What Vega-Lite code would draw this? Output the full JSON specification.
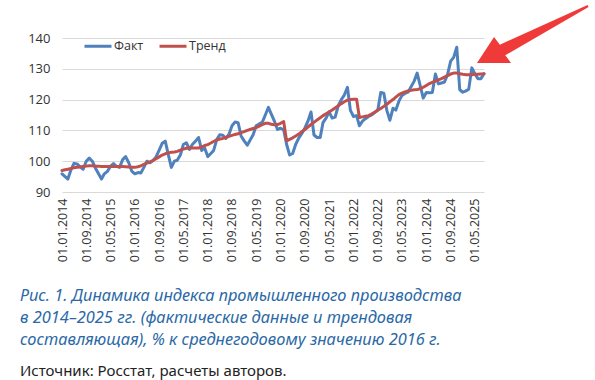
{
  "$schema": "https://vega.github.io/schema/vega-lite/v6.json",
  "width": 422,
  "height": 154,
  "autosize": "none",
  "padding": {"left": 62, "top": 38, "right": 111, "bottom": 188},
  "background": "white",
  "config": {"view": {"stroke": null}, "axis": {"labelOverlap": false}},
  "title": {
    "text": ["Рис. 1. Динамика индекса промышленного производства", "в 2014–2025 гг. (фактические данные и трендовая", "составляющая), % к среднегодовому значению 2016 г."],
    "subtitle": "Источник: Росстат, расчеты авторов.",
    "orient": "bottom",
    "anchor": "start",
    "frame": "group",
    "dx": -42,
    "offset": 26,
    "font": "Noto Sans",
    "fontStyle": "italic",
    "fontWeight": "normal",
    "fontSize": 16.4,
    "lineHeight": 22,
    "color": "#2B69A6",
    "subtitleFont": "Noto Sans",
    "subtitleFontSize": 15,
    "subtitleColor": "#222222",
    "subtitlePadding": 16
  },
  "datasets": {
    "series": [
      {"date":"2014-01-01","Факт":95.9,"Тренд":97.0},
      {"date":"2014-02-01","Факт":95.0,"Тренд":97.2},
      {"date":"2014-03-01","Факт":94.2,"Тренд":97.4},
      {"date":"2014-04-01","Факт":97.2,"Тренд":97.6},
      {"date":"2014-05-01","Факт":99.3,"Тренд":97.9},
      {"date":"2014-06-01","Факт":99.1,"Тренд":98.0},
      {"date":"2014-07-01","Факт":98.2,"Тренд":98.1},
      {"date":"2014-08-01","Факт":97.4,"Тренд":98.3},
      {"date":"2014-09-01","Факт":100.0,"Тренд":98.4},
      {"date":"2014-10-01","Факт":101.0,"Тренд":98.5},
      {"date":"2014-11-01","Факт":100.0,"Тренд":98.5},
      {"date":"2014-12-01","Факт":97.8,"Тренд":98.4},
      {"date":"2015-01-01","Факт":96.0,"Тренд":98.4},
      {"date":"2015-02-01","Факт":94.2,"Тренд":98.3},
      {"date":"2015-03-01","Факт":95.9,"Тренд":98.3},
      {"date":"2015-04-01","Факт":96.7,"Тренд":98.3},
      {"date":"2015-05-01","Факт":98.3,"Тренд":98.3},
      {"date":"2015-06-01","Факт":99.2,"Тренд":98.3},
      {"date":"2015-07-01","Факт":98.3,"Тренд":98.3},
      {"date":"2015-08-01","Факт":98.0,"Тренд":98.3},
      {"date":"2015-09-01","Факт":100.5,"Тренд":98.3},
      {"date":"2015-10-01","Факт":101.5,"Тренд":98.2},
      {"date":"2015-11-01","Факт":99.5,"Тренд":98.1},
      {"date":"2015-12-01","Факт":96.8,"Тренд":98.0},
      {"date":"2016-01-01","Факт":95.9,"Тренд":98.0},
      {"date":"2016-02-01","Факт":96.3,"Тренд":98.2},
      {"date":"2016-03-01","Факт":96.2,"Тренд":98.5},
      {"date":"2016-04-01","Факт":98.0,"Тренд":99.0},
      {"date":"2016-05-01","Факт":100.0,"Тренд":99.4},
      {"date":"2016-06-01","Факт":99.5,"Тренд":99.8},
      {"date":"2016-07-01","Факт":100.2,"Тренд":100.2},
      {"date":"2016-08-01","Факт":101.4,"Тренд":100.8},
      {"date":"2016-09-01","Факт":103.6,"Тренд":101.4},
      {"date":"2016-10-01","Факт":105.8,"Тренд":102.0},
      {"date":"2016-11-01","Факт":106.5,"Тренд":102.4},
      {"date":"2016-12-01","Факт":102.2,"Тренд":102.7},
      {"date":"2017-01-01","Факт":98.0,"Тренд":102.9},
      {"date":"2017-02-01","Факт":100.0,"Тренд":103.0},
      {"date":"2017-03-01","Факт":100.3,"Тренд":103.2},
      {"date":"2017-04-01","Факт":102.0,"Тренд":103.6},
      {"date":"2017-05-01","Факт":105.4,"Тренд":103.9},
      {"date":"2017-06-01","Факт":106.0,"Тренд":104.2},
      {"date":"2017-07-01","Факт":103.8,"Тренд":104.3},
      {"date":"2017-08-01","Факт":105.5,"Тренд":104.3},
      {"date":"2017-09-01","Факт":106.5,"Тренд":104.3},
      {"date":"2017-10-01","Факт":107.7,"Тренд":104.3},
      {"date":"2017-11-01","Факт":103.5,"Тренд":104.6},
      {"date":"2017-12-01","Факт":104.3,"Тренд":105.1},
      {"date":"2018-01-01","Факт":101.5,"Тренд":105.4},
      {"date":"2018-02-01","Факт":102.5,"Тренд":105.9},
      {"date":"2018-03-01","Факт":103.5,"Тренд":106.4},
      {"date":"2018-04-01","Факт":107.0,"Тренд":106.9},
      {"date":"2018-05-01","Факт":108.6,"Тренд":107.2},
      {"date":"2018-06-01","Факт":108.4,"Тренд":107.4},
      {"date":"2018-07-01","Факт":107.4,"Тренд":107.7},
      {"date":"2018-08-01","Факт":108.7,"Тренд":108.1},
      {"date":"2018-09-01","Факт":111.5,"Тренд":108.4},
      {"date":"2018-10-01","Факт":112.7,"Тренд":108.7},
      {"date":"2018-11-01","Факт":112.5,"Тренд":108.9},
      {"date":"2018-12-01","Факт":108.2,"Тренд":109.3},
      {"date":"2019-01-01","Факт":106.6,"Тренд":109.6},
      {"date":"2019-02-01","Факт":105.2,"Тренд":110.0},
      {"date":"2019-03-01","Факт":106.8,"Тренд":110.3},
      {"date":"2019-04-01","Факт":108.6,"Тренд":110.6},
      {"date":"2019-05-01","Факт":111.5,"Тренд":110.9},
      {"date":"2019-06-01","Факт":112.1,"Тренд":111.4},
      {"date":"2019-07-01","Факт":112.6,"Тренд":111.9},
      {"date":"2019-08-01","Факт":115.0,"Тренд":112.3},
      {"date":"2019-09-01","Факт":117.5,"Тренд":112.3},
      {"date":"2019-10-01","Факт":115.2,"Тренд":112.0},
      {"date":"2019-11-01","Факт":112.9,"Тренд":111.8},
      {"date":"2019-12-01","Факт":110.3,"Тренд":111.9},
      {"date":"2020-01-01","Факт":110.7,"Тренд":112.3},
      {"date":"2020-02-01","Факт":110.2,"Тренд":112.9},
      {"date":"2020-03-01","Факт":105.5,"Тренд":106.6},
      {"date":"2020-04-01","Факт":102.0,"Тренд":107.1},
      {"date":"2020-05-01","Факт":102.5,"Тренд":107.6},
      {"date":"2020-06-01","Факт":105.5,"Тренд":108.2},
      {"date":"2020-07-01","Факт":107.5,"Тренд":108.8},
      {"date":"2020-08-01","Факт":109.0,"Тренд":109.6},
      {"date":"2020-09-01","Факт":110.8,"Тренд":110.3},
      {"date":"2020-10-01","Факт":113.0,"Тренд":111.1},
      {"date":"2020-11-01","Факт":116.0,"Тренд":111.9},
      {"date":"2020-12-01","Факт":108.5,"Тренд":112.6},
      {"date":"2021-01-01","Факт":107.7,"Тренд":113.4},
      {"date":"2021-02-01","Факт":107.7,"Тренд":114.1},
      {"date":"2021-03-01","Факт":112.5,"Тренд":114.8},
      {"date":"2021-04-01","Факт":114.0,"Тренд":115.4},
      {"date":"2021-05-01","Факт":116.0,"Тренд":116.0},
      {"date":"2021-06-01","Факт":114.0,"Тренд":116.6},
      {"date":"2021-07-01","Факт":114.3,"Тренд":117.3},
      {"date":"2021-08-01","Факт":118.0,"Тренд":118.0},
      {"date":"2021-09-01","Факт":120.0,"Тренд":118.7},
      {"date":"2021-10-01","Факт":121.5,"Тренд":119.3},
      {"date":"2021-11-01","Факт":124.0,"Тренд":119.8},
      {"date":"2021-12-01","Факт":116.5,"Тренд":120.0},
      {"date":"2022-01-01","Факт":114.5,"Тренд":120.1},
      {"date":"2022-02-01","Факт":114.8,"Тренд":120.1},
      {"date":"2022-03-01","Факт":111.5,"Тренд":114.2},
      {"date":"2022-04-01","Факт":113.0,"Тренд":114.4},
      {"date":"2022-05-01","Факт":113.8,"Тренд":114.6},
      {"date":"2022-06-01","Факт":114.5,"Тренд":114.8},
      {"date":"2022-07-01","Факт":115.0,"Тренд":115.3},
      {"date":"2022-08-01","Факт":115.8,"Тренд":115.9},
      {"date":"2022-09-01","Факт":116.5,"Тренд":116.6},
      {"date":"2022-10-01","Факт":122.3,"Тренд":117.1},
      {"date":"2022-11-01","Факт":122.1,"Тренд":117.8},
      {"date":"2022-12-01","Факт":116.5,"Тренд":118.5},
      {"date":"2023-01-01","Факт":113.3,"Тренд":119.3},
      {"date":"2023-02-01","Факт":117.2,"Тренд":120.0},
      {"date":"2023-03-01","Факт":116.6,"Тренд":120.8},
      {"date":"2023-04-01","Факт":119.5,"Тренд":121.6},
      {"date":"2023-05-01","Факт":121.3,"Тренд":122.1},
      {"date":"2023-06-01","Факт":122.0,"Тренд":122.5},
      {"date":"2023-07-01","Факт":122.4,"Тренд":122.8},
      {"date":"2023-08-01","Факт":124.2,"Тренд":123.0},
      {"date":"2023-09-01","Факт":126.0,"Тренд":123.2},
      {"date":"2023-10-01","Факт":128.6,"Тренд":123.3},
      {"date":"2023-11-01","Факт":124.5,"Тренд":123.5},
      {"date":"2023-12-01","Факт":120.5,"Тренд":124.0},
      {"date":"2024-01-01","Факт":122.3,"Тренд":124.6},
      {"date":"2024-02-01","Факт":122.2,"Тренд":125.2},
      {"date":"2024-03-01","Факт":122.3,"Тренд":125.6},
      {"date":"2024-04-01","Факт":128.3,"Тренд":126.0},
      {"date":"2024-05-01","Факт":125.1,"Тренд":126.4},
      {"date":"2024-06-01","Факт":125.4,"Тренд":126.8},
      {"date":"2024-07-01","Факт":125.7,"Тренд":127.3},
      {"date":"2024-08-01","Факт":128.2,"Тренд":127.8},
      {"date":"2024-09-01","Факт":132.5,"Тренд":128.3},
      {"date":"2024-10-01","Факт":133.7,"Тренд":128.6},
      {"date":"2024-11-01","Факт":137.0,"Тренд":128.6},
      {"date":"2024-12-01","Факт":123.2,"Тренд":128.4},
      {"date":"2025-01-01","Факт":122.4,"Тренд":128.2},
      {"date":"2025-02-01","Факт":122.8,"Тренд":128.1},
      {"date":"2025-03-01","Факт":123.4,"Тренд":128.1},
      {"date":"2025-04-01","Факт":130.3,"Тренд":128.1},
      {"date":"2025-05-01","Факт":128.4,"Тренд":128.2},
      {"date":"2025-06-01","Факт":126.8,"Тренд":128.2},
      {"date":"2025-07-01","Факт":126.8,"Тренд":128.3},
      {"date":"2025-08-01","Факт":128.4,"Тренд":128.4}
    ],
    "arrow": [{"date":"2026-12-03","value":141.3}]
  },
  "encoding": {
    "x": {
      "field": "date", "type": "temporal",
      "scale": {"type": "utc", "domain": [{"year": 2014, "month": 1, "date": 1, "utc": true}, {"year": 2025, "month": 8, "date": 1, "utc": true}]},
      "axis": {
        "title": null, "grid": false, "domain": false, "ticks": false,
        "format": "%d.%m.%Y", "labelAngle": -90, "labelAlign": "right", "labelBaseline": "middle",
        "labelPadding": 6, "labelFont": "Open Sans", "labelFontSize": 12.5, "labelColor": "#333333",
        "labelOverlap": false, "labelFlush": false, "labelBound": false,
        "values": [
          {"year": 2014, "month": 1, "date": 1, "utc": true},
          {"year": 2014, "month": 9, "date": 1, "utc": true},
          {"year": 2015, "month": 5, "date": 1, "utc": true},
          {"year": 2016, "month": 1, "date": 1, "utc": true},
          {"year": 2016, "month": 9, "date": 1, "utc": true},
          {"year": 2017, "month": 5, "date": 1, "utc": true},
          {"year": 2018, "month": 1, "date": 1, "utc": true},
          {"year": 2018, "month": 9, "date": 1, "utc": true},
          {"year": 2019, "month": 5, "date": 1, "utc": true},
          {"year": 2020, "month": 1, "date": 1, "utc": true},
          {"year": 2020, "month": 9, "date": 1, "utc": true},
          {"year": 2021, "month": 5, "date": 1, "utc": true},
          {"year": 2022, "month": 1, "date": 1, "utc": true},
          {"year": 2022, "month": 9, "date": 1, "utc": true},
          {"year": 2023, "month": 5, "date": 1, "utc": true},
          {"year": 2024, "month": 1, "date": 1, "utc": true},
          {"year": 2024, "month": 9, "date": 1, "utc": true},
          {"year": 2025, "month": 5, "date": 1, "utc": true}
        ]
      }
    },
    "y": {
      "field": "value", "type": "quantitative",
      "scale": {"domain": [90, 140], "nice": false, "zero": false},
      "axis": {
        "title": null, "values": [90, 100, 110, 120, 130, 140], "domain": false, "ticks": false,
        "gridColor": "#D9D9D9", "gridWidth": 1, "labelPadding": 12, "labelOverlap": false,
        "labelFont": "Open Sans", "labelFontSize": 13, "labelColor": "#333333"
      }
    }
  },
  "layer": [
    {
      "data": {"name": "series"},
      "transform": [{"fold": ["Факт", "Тренд"], "as": ["series", "value"]}],
      "mark": {"type": "line", "strokeWidth": 3, "strokeJoin": "round", "strokeCap": "round"},
      "encoding": {
        "color": {
          "field": "series", "type": "nominal",
          "scale": {"domain": ["Факт", "Тренд"], "range": ["#4F81BD", "#C0504D"]},
          "legend": {
            "orient": "none", "legendX": 21, "legendY": -7, "direction": "horizontal",
            "title": null, "symbolType": "stroke", "symbolSize": 729, "symbolStrokeWidth": 3,
            "labelFont": "Open Sans", "labelFontSize": 12.5, "labelColor": "#333333",
            "labelOffset": 1, "columnPadding": 9, "padding": 0
          }
        }
      }
    },
    {
      "data": {"name": "arrow"},
      "mark": {
        "type": "point",
        "shape": "M-0.996,0.518L-0.692,0.054L-0.588,0.191L0.978,-0.516L0.996,-0.484L-0.492,0.38L-0.388,0.518Z",
        "size": 12544, "filled": true, "fill": "#F03A3A", "strokeWidth": 0, "opacity": 1
      }
    }
  ]
}
